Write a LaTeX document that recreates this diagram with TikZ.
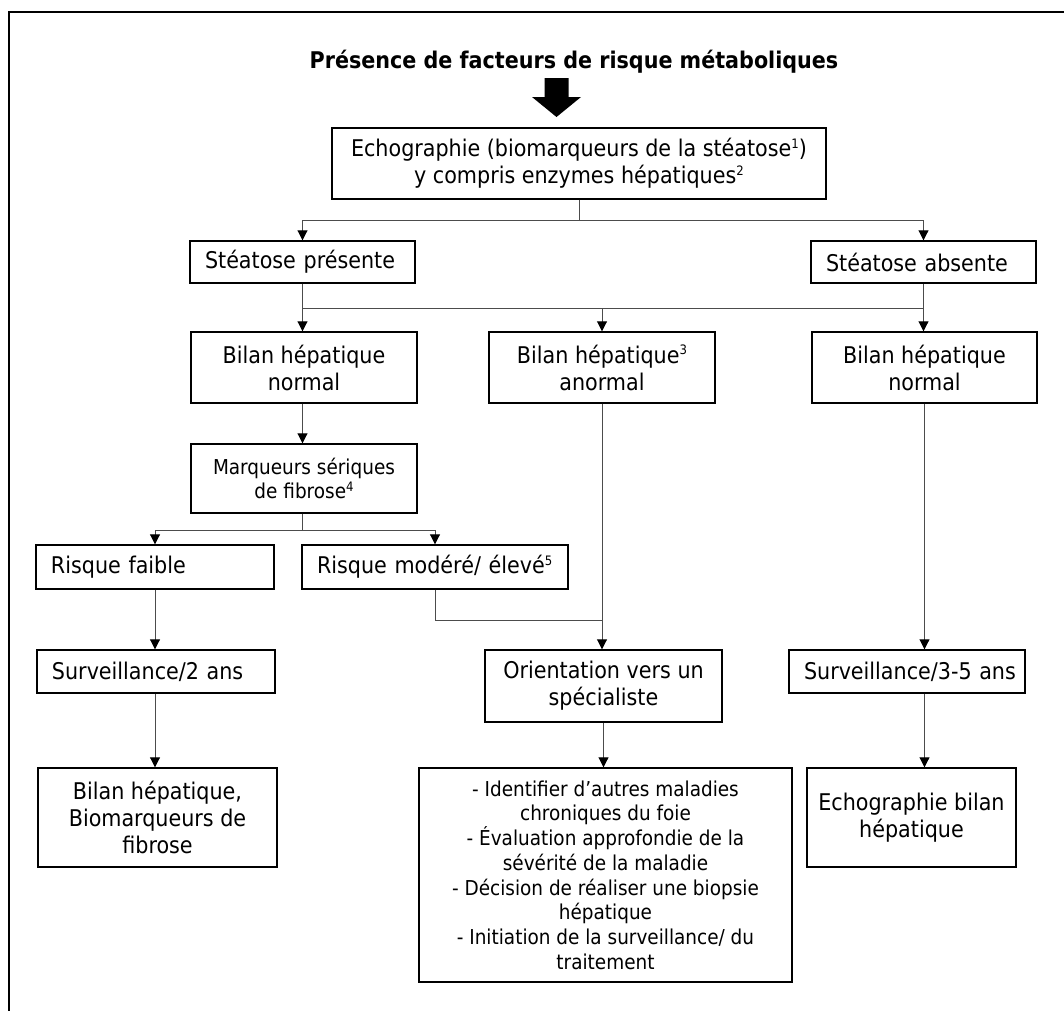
\documentclass[tikz,border=0pt]{standalone}
\usepackage{fontspec}
\setmainfont{DejaVu Sans Condensed}[BoldFont={DejaVu Sans Condensed Bold}]
\usetikzlibrary{arrows.meta}
\newcommand\ssup[1]{\raisebox{0.7ex}{\fontsize{13bp}{13bp}\selectfont #1}}
\hfuzz=50pt
\tikzset{
  box/.style={draw, line width=1.4bp, inner sep=0pt, align=center,
    font=\fontsize{23bp}{27bp}\selectfont},
  lbox/.style={box, align=left, inner xsep=15bp},
  sbox/.style={box, font=\fontsize{20.5bp}{24.7bp}\selectfont},
  conn/.style={draw=black!70, line width=0.9bp},
  arr/.style={conn, -{Triangle[width=10bp,length=10bp,fill=black,color=black]}}
}
\begin{document}
\begin{tikzpicture}[x=1bp,y=-1bp]
\useasboundingbox (0,0) rectangle (1064,1011);
\draw[line width=2bp] (1064,12) -- (9,12) -- (9,1011);
\node[anchor=base, font=\bfseries\fontsize{23bp}{27bp}\selectfont] (title) at (574,68) {Présence de facteurs de risque métaboliques};
\fill (544.5,78) -- (568.5,78) -- (568.5,97) -- (581,97) -- (556.5,117) -- (532,97) -- (544.5,97) -- cycle;

\node[box, minimum width=494bp, minimum height=71bp] (Echo) at (579,163.5) {Echographie (biomarqueurs de la stéatose\ssup{1})\\y compris enzymes hépatiques\ssup{2}};
\node[lbox, text width=195bp, minimum height=42bp] (SP) at (302.5,262) {Stéatose présente};
\node[lbox, text width=195bp, minimum height=42bp] (SA) at (923.5,262) {Stéatose absente};
\node[box, minimum width=226bp, minimum height=71bp] (BN1) at (304,367.5) {Bilan hépatique\\normal};
\node[box, minimum width=226bp, minimum height=71bp] (BA) at (602,367.5) {Bilan hépatique\ssup{3}\\anormal};
\node[box, minimum width=225bp, minimum height=71bp] (BN2) at (924.5,367.5) {Bilan hépatique\\normal};
\node[sbox, minimum width=226bp, minimum height=69bp] (MS) at (304,478.5) {Marqueurs sériques\\de fibrose\ssup{4}};
\node[lbox, text width=208bp, minimum height=44bp] (RF) at (155,567) {Risque faible};
\node[lbox, text width=236bp, minimum height=44bp] (RM) at (435,567) {Risque modéré/ élevé\ssup{5}};
\node[lbox, text width=208bp, minimum height=43bp] (S2) at (156,671.5) {Surveillance/2 ans};
\node[box, minimum width=237bp, minimum height=72bp] (OR) at (603.5,686) {Orientation vers un\\spécialiste};
\node[lbox, text width=206bp, minimum height=43bp, inner xsep=15bp] (S35) at (907,671.5) {\mbox{Surveillance/3-5 ans}};
\node[box, minimum width=239bp, minimum height=99bp] (BH) at (157.5,817.5) {Bilan hépatique,\\Biomarqueurs de\\fibrose};
\node[sbox, minimum width=373bp, minimum height=214bp] (LIST) at (605.5,875) {- Identifier d’autres maladies\\chroniques du foie\\- Évaluation approfondie de la\\sévérité de la maladie\\- Décision de réaliser une biopsie\\hépatique\\- Initiation de la surveillance/ du\\traitement};
\node[box, minimum width=209bp, minimum height=99bp] (EB) at (911.5,817.5) {Echographie bilan\\hépatique};

\coordinate (jA) at (0,220);
\coordinate (jB) at (0,308);
\coordinate (jC) at (0,530);
\coordinate (jD) at (0,620);

\draw[conn] (Echo.south) -- (Echo.south |- jA);
\draw[arr] (Echo.south |- jA) -| (SP.north);
\draw[arr] (Echo.south |- jA) -| (SA.north);

\draw[conn] (SP.south) -- (SP.south |- jB) -- (SA.south |- jB) -- (SA.south);
\draw[arr] (SP.south |- jB) -- (SP.south |- BN1.north);
\draw[arr] (BA.north |- jB) -- (BA.north);
\draw[arr] (SA.south |- jB) -- (SA.south |- BN2.north);

\draw[arr] (SP.south |- BN1.south) -- (SP.south |- MS.north);
\draw[conn] (SP.south |- MS.south) -- (SP.south |- jC);
\draw[arr] (SP.south |- jC) -| (RF.north);
\draw[arr] (SP.south |- jC) -| (RM.north);

\draw[conn] (RM.south) |- (BA.south |- jD);
\draw[arr] (BA.south) -- (BA.south |- OR.north);
\draw[arr] (OR.south) -- (OR.south |- LIST.north);

\draw[arr] (RF.south) -- (RF.south |- S2.north);
\draw[arr] (RF.south |- S2.south) -- (RF.south |- BH.north);

\draw[arr] (BN2.south) -- (BN2.south |- S35.north);
\draw[arr] (BN2.south |- S35.south) -- (BN2.south |- EB.north);
\end{tikzpicture}
\end{document}
